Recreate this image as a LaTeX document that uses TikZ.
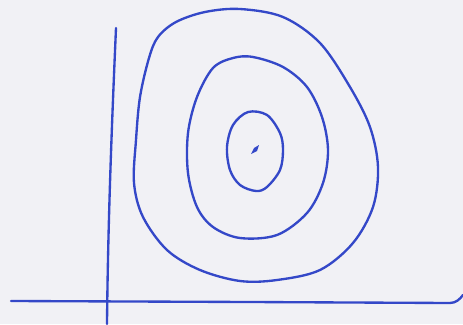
\documentclass[tikz,border=0pt]{standalone}
\usetikzlibrary{backgrounds}
\definecolor{paper}{RGB}{241,241,245}
\definecolor{pen}{RGB}{52,72,200}

\begin{document}
\begin{tikzpicture}[
    x=0.03cm, y=-0.03cm,
    ink/.style={draw=pen, line width=2pt, line cap=round, line join=round},
    level/.style={ink, tension=0.55}
]

% ---- sheet ----
\fill[paper] (0,0) rectangle (463,324);
\useasboundingbox (0,0) rectangle (463,324);

% ---- axes ----
\draw[ink] (116,28) .. controls (112,120) and (108,220) .. (107,324);
\draw[ink] (11,301) -- (250,302) -- (450,303)
  .. controls (456,303) and (460,299) .. (463,295);

% ---- level curves ----
\draw[level] plot[smooth cycle] coordinates {
  (149,58) (158,37) (176,22) (205,12) (240,9) (283,17) (320,43) (350,87)
  (370,127) (378,167) (373,207) (353,243) (320,270) (277,280)
  (240,281) (200,270) (167,250) (143,217) (134,183) (136,140) (140,97)};
\draw[level] plot[smooth cycle] coordinates {
  (213,68) (233,58) (253,57) (283,67) (307,87) (322,117) (328,150)
  (323,183) (307,213) (277,235) (240,238) (213,227) (197,207)
  (188,173) (188,133) (197,97)};
\draw[level] plot[smooth cycle] coordinates {
  (248,112) (267,115) (280,133) (283,150) (280,170) (267,187)
  (256,191) (240,185) (230,170) (227,147) (233,125)};

% ---- minimum ----
\fill[pen] (251,154) -- (254,148) -- (259,145) -- (257,151) -- cycle;

\end{tikzpicture}
\end{document}
